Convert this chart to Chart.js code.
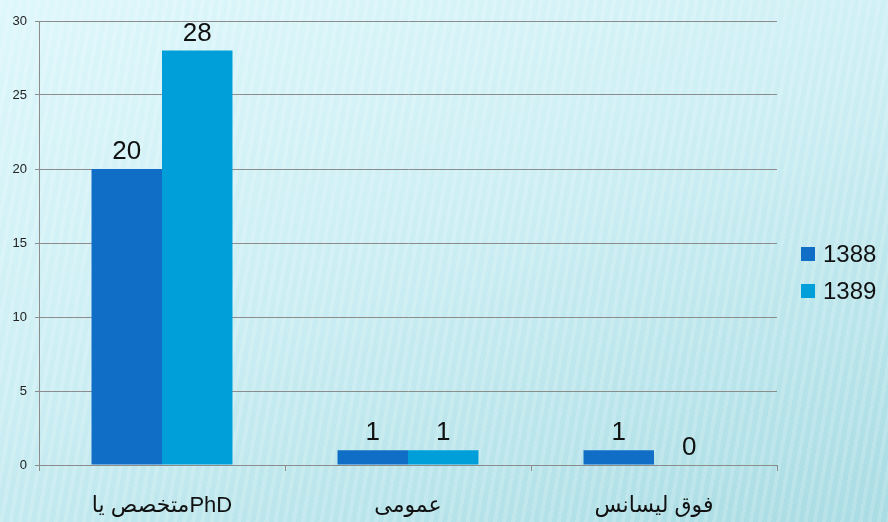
<!DOCTYPE html>
<html>
<head>
<meta charset="utf-8">
<script src="https://cdn.jsdelivr.net/npm/chart.js@4/dist/chart.umd.min.js"></script>
<style>
  html, body { margin: 0; padding: 0; }
  body {
    width: 888px; height: 522px; overflow: hidden;
    background:
      repeating-linear-gradient(100deg, rgba(255,255,255,0.16) 0px, rgba(255,255,255,0.16) 4px, rgba(255,255,255,0) 4px, rgba(255,255,255,0) 9px),
      linear-gradient(160deg, #def7fb 0%, #cdeff4 45%, #a9dce3 100%);
  }
  #wrap { position: absolute; left: 0; top: 0; width: 888px; height: 522px; }
</style>
</head>
<body>
<div id="wrap"><canvas id="c" width="888" height="522"></canvas></div>
<script>
const categories = ['متخصص یاPhD', 'عمومی', 'فوق لیسانس'];
const seriesNames = ['1388', '1389'];
const values1388 = [20, 1, 1];
const values1389 = [28, 1, 0];
const yTicks = [0, 5, 10, 15, 20, 25, 30];
const colors = ['#116ec6', '#019fd9'];

const dataLabels = {
  id: 'dataLabels',
  afterDatasetsDraw(chart) {
    const ctx = chart.ctx;
    ctx.save();
    ctx.font = '26px "Liberation Sans", Arial, sans-serif';
    ctx.fillStyle = '#111';
    ctx.textAlign = 'center';
    ctx.textBaseline = 'alphabetic';
    chart.data.datasets.forEach((ds, i) => {
      const meta = chart.getDatasetMeta(i);
      meta.data.forEach((bar, j) => {
        ctx.fillText(String(ds.data[j]), bar.x, bar.y - 10);
      });
    });
    ctx.restore();
  }
};

const customLegend = {
  id: 'customLegend',
  afterDraw(chart) {
    const ctx = chart.ctx;
    ctx.save();
    ctx.font = '24px "Liberation Sans", Arial, sans-serif';
    ctx.textBaseline = 'middle';
    ctx.textAlign = 'left';
    const x = chart.chartArea.right + 24;
    const y0 = 254, gap = 37;
    chart.data.datasets.forEach((ds, i) => {
      const y = y0 + i * gap;
      ctx.fillStyle = ds.backgroundColor;
      ctx.fillRect(x, y - 7, 14, 14);
      ctx.fillStyle = '#111';
      ctx.fillText(ds.label, x + 22, y + 1);
    });
    ctx.restore();
  }
};

new Chart(document.getElementById('c'), {
  type: 'bar',
  data: {
    labels: categories,
    datasets: [
      { label: seriesNames[0], data: values1388, backgroundColor: colors[0], borderWidth: 0 },
      { label: seriesNames[1], data: values1389, backgroundColor: colors[1], borderWidth: 0 }
    ]
  },
  options: {
    responsive: false,
    animation: false,
    devicePixelRatio: 1,
    layout: { padding: { top: 21, right: 111, left: 0, bottom: 0 } },
    datasets: { bar: { categoryPercentage: 0.573, barPercentage: 1.0 } },
    plugins: { legend: { display: false }, tooltip: { enabled: false } },
    scales: {
      x: {
        grid: { drawOnChartArea: false, drawTicks: true, tickLength: 6, color: '#8c8c8c', offset: true },
        border: { color: '#8c8c8c', width: 1 },
        ticks: { color: '#111', font: { size: 22, family: '"Liberation Sans", "DejaVu Sans", Arial, sans-serif' }, padding: 22 },
        afterFit(scale) { scale.height = 57; }
      },
      y: {
        min: 0, max: 30,
        afterBuildTicks(scale) { scale.ticks = yTicks.map(v => ({ value: v })); },
        grid: { color: '#8c8c8c', tickLength: 4, lineWidth: 1 },
        border: { color: '#8c8c8c', width: 1 },
        ticks: { color: '#222', font: { size: 13, family: '"Liberation Sans", Arial, sans-serif' }, padding: 8 },
        afterFit(scale) { scale.width = 39; }
      }
    }
  },
  plugins: [dataLabels, customLegend]
});
</script>
</body>
</html>
